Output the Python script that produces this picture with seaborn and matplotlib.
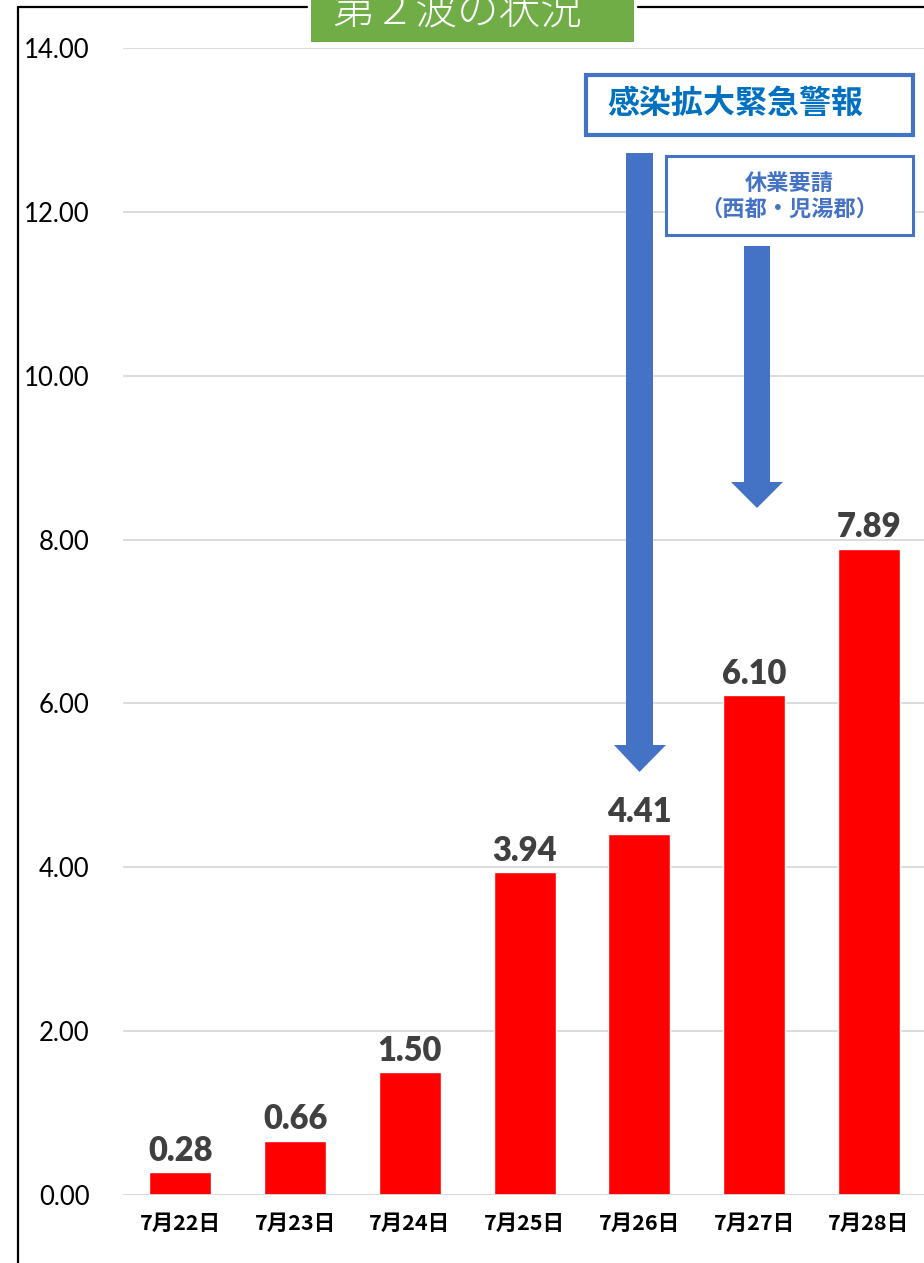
import matplotlib
matplotlib.use("Agg")
import matplotlib.pyplot as plt
import seaborn as sns
import pandas as pd
from matplotlib.patches import Rectangle, Polygon
from matplotlib.lines import Line2D

# Daily values (per 100k) for the second wave
dates = ["7月22日", "7月23日", "7月24日", "7月25日", "7月26日", "7月27日", "7月28日"]
values = [0.28, 0.66, 1.50, 3.94, 4.41, 6.10, 7.89]
yticks = [0, 2, 4, 6, 8, 10, 12, 14]

title_text = "第２波の状況"
alert_text = "感染拡大緊急警報"
request_text = "休業要請\n（西都・児湯郡）"

sns.set_theme(style="white")
plt.rcParams["font.family"] = ["Noto Sans CJK JP", "DejaVu Sans"]

W, H = 924, 1263
fig = plt.figure(figsize=(W / 100, H / 100), dpi=100)

def fx(x):
    return x / W

def fy(y):
    return 1 - y / H

ax = fig.add_axes([fx(123), fy(1195), fx(924) - fx(123), fy(48) - fy(1195)])

df = pd.DataFrame({"date": dates, "value": values})
sns.barplot(data=df, x="date", y="value", color="#FF0000", saturation=1,
            width=0.54, ax=ax, zorder=3)

ax.set_ylim(0, 14)
ax.set_xlim(-0.5, 6.48)
ax.set_yticks(yticks)
ax.set_yticklabels([f"{v:.2f}" for v in yticks], fontfamily="Lato", fontsize=18.5,
                   color="#000000")
ax.tick_params(axis="y", length=0, pad=24)
ax.tick_params(axis="x", length=0, pad=13)
for lbl in ax.get_xticklabels():
    lbl.set_fontweight("bold")
    lbl.set_fontsize(15.5)
    lbl.set_color("#000000")
ax.set_xlabel("")
ax.set_ylabel("")
ax.grid(axis="y", color="#D9D9D9", linewidth=1.3, zorder=0)
ax.grid(axis="x", visible=False)
for s in ax.spines.values():
    s.set_visible(False)
ax.axhline(0, color="#D9D9D9", linewidth=2, zorder=4)

ax.bar_label(ax.containers[0], fmt="%.2f", padding=4, fontfamily="Lato",
             fontweight="heavy", fontsize=23.5, color="#404040")

# Outer frame lines (top interrupted by the title box)
fig.add_artist(Line2D([fx(18), fx(18)], [fy(7), fy(H)], color="black", lw=1.6))
fig.add_artist(Line2D([fx(18), fx(307)], [fy(7), fy(7)], color="black", lw=1.6))
fig.add_artist(Line2D([fx(638), fx(W)], [fy(7), fy(7)], color="black", lw=1.6))

# Green title box
fig.add_artist(Rectangle((fx(311), fy(42)), fx(634) - fx(311), fy(0) - fy(42),
                         transform=fig.transFigure, facecolor="#70AD47",
                         edgecolor="none", zorder=5))
fig.text(fx(457), fy(25), title_text, ha="center", va="baseline", fontsize=30,
         fontweight="light", color="white", zorder=6)

# Alert boxes
fig.add_artist(Rectangle((fx(586), fy(135)), fx(913) - fx(586), fy(75) - fy(135),
                         transform=fig.transFigure, facecolor="white",
                         edgecolor="#4472C4", linewidth=3, zorder=5))
fig.text(fx(735), fy(104), alert_text, ha="center", va="center", fontsize=23,
         fontweight="bold", color="#0070C0", zorder=6)

fig.add_artist(Rectangle((fx(666), fy(235)), fx(913) - fx(666), fy(156) - fy(235),
                         transform=fig.transFigure, facecolor="white",
                         edgecolor="#4472C4", linewidth=2.2, zorder=5))
fig.text(fx(789), fy(196), request_text, ha="center", va="center", fontsize=16,
         fontweight="bold", color="#4472C4", linespacing=1.15, zorder=6)

# Down arrows
def down_arrow(x0, x1, top, head_l, head_r, head_top, tip):
    cx = (x0 + x1) / 2
    pts = [(x0, top), (x1, top), (x1, head_top), (head_r, head_top), (cx, tip),
           (head_l, head_top), (x0, head_top)]
    fig.add_artist(Polygon([(fx(x), fy(y)) for x, y in pts], closed=True,
                           transform=fig.transFigure, facecolor="#4472C4",
                           edgecolor="none", zorder=5))

down_arrow(626, 653, 153, 614, 666, 745, 772)
down_arrow(744, 770, 246, 731, 783, 482, 508)

fig.savefig("out.png", dpi=100)
